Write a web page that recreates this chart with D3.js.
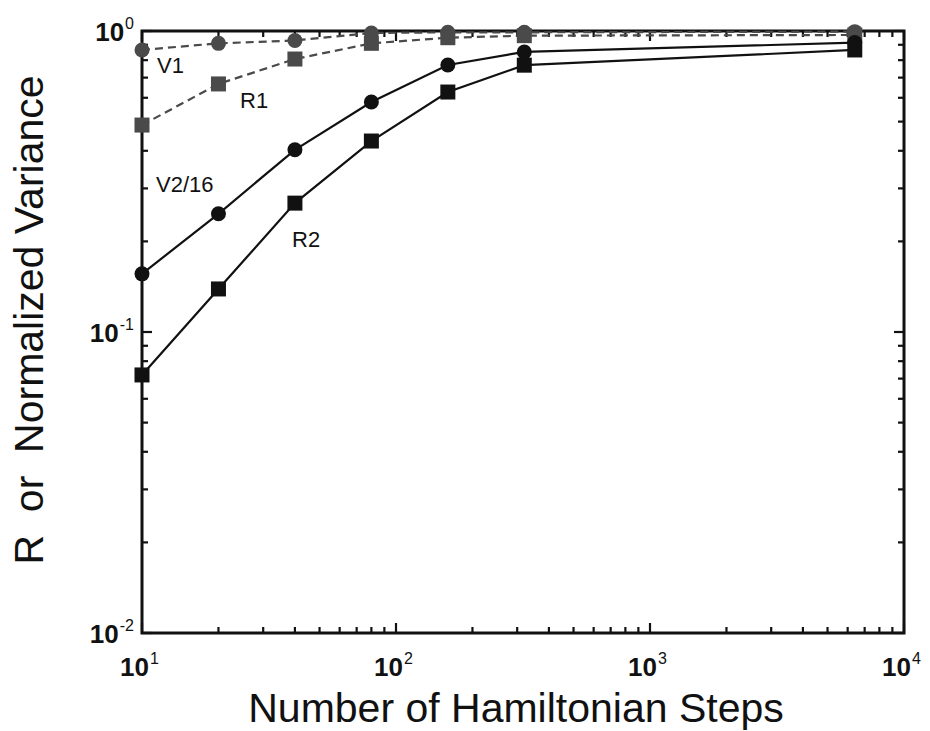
<!DOCTYPE html>
<html>
<head>
<meta charset="utf-8">
<script src="https://cdn.jsdelivr.net/npm/d3@7"></script>
<style>
  body { margin: 0; background: #fff; }
  svg { font-family: "Liberation Sans", Arial, sans-serif; }
</style>
</head>
<body>
<div id="chart"></div>
<script>
// Data
var steps = [10, 20, 40, 80, 160, 320, 6400];
var v1 = [0.865, 0.91, 0.93, 0.985, 0.99, 0.99, 0.995];
var r1 = [0.487, 0.667, 0.807, 0.91, 0.95, 0.965, 0.97];
var v2 = [0.156, 0.247, 0.403, 0.581, 0.771, 0.852, 0.915];
var r2 = [0.072, 0.139, 0.268, 0.431, 0.627, 0.77, 0.865];
var seriesNames = ['V1', 'R1', 'V2/16', 'R2'];
var xTicks = [10, 100, 1000, 10000];
var yTicks = [0.01, 0.1, 1];

var W = 930, H = 731;
var margin = {left: 142, right: 26, top: 31, bottom: 98};

var svg = d3.select('#chart').append('svg')
  .attr('width', W).attr('height', H);

var x = d3.scaleLog().domain([10, 10000]).range([margin.left, W - margin.right]);
var y = d3.scaleLog().domain([0.01, 1]).range([H - margin.bottom, margin.top]);

// minor ticks 2..9 per decade
function minors(lo, hi) {
  var out = [];
  for (var e = lo; e < hi; e++) {
    for (var k = 2; k <= 9; k++) out.push(k * Math.pow(10, e));
  }
  return out;
}
var xMinor = minors(1, 4), yMinor = minors(-2, 0);

var tickG = svg.append('g').attr('stroke', '#111').attr('stroke-width', 2.2);
var x0 = x.range()[0], x1 = x.range()[1], y0 = y.range()[0], y1 = y.range()[1];
[[xTicks, 10], [xMinor, 6]].forEach(function (t) {
  t[0].forEach(function (v) {
    tickG.append('line').attr('x1', x(v)).attr('x2', x(v)).attr('y1', y0).attr('y2', y0 - t[1]);
    tickG.append('line').attr('x1', x(v)).attr('x2', x(v)).attr('y1', y1).attr('y2', y1 + t[1]);
  });
});
[[yTicks, 10], [yMinor, 6]].forEach(function (t) {
  t[0].forEach(function (v) {
    tickG.append('line').attr('y1', y(v)).attr('y2', y(v)).attr('x1', x0).attr('x2', x0 + t[1]);
    tickG.append('line').attr('y1', y(v)).attr('y2', y(v)).attr('x1', x1).attr('x2', x1 - t[1]);
  });
});

// frame
svg.append('rect')
  .attr('x', x0).attr('y', y1).attr('width', x1 - x0).attr('height', y0 - y1)
  .attr('fill', 'none').attr('stroke', '#111').attr('stroke-width', 3);

// tick labels: 10 with superscript exponent
function powLabel(g, v, px, py, anchor) {
  var t = g.append('text').attr('x', px).attr('y', py).attr('text-anchor', anchor)
    .attr('font-size', 26).attr('fill', '#111').attr('font-weight', 'bold');
  t.append('tspan').text('10');
  t.append('tspan').attr('dy', -12).attr('dx', 1).attr('font-size', 16).attr('font-weight', 'normal')
    .text(Math.round(Math.log10(v)));
}
var lab = svg.append('g');
xTicks.forEach(function (v) { powLabel(lab, v, x(v) - 22, 676, 'start'); });
yTicks.forEach(function (v) { powLabel(lab, v, x0 - 8, y(v) + 10, 'end'); });

// axis titles
svg.append('text').attr('x', 516).attr('y', 722).attr('text-anchor', 'middle')
  .attr('font-size', 41).attr('fill', '#111').text('Number of Hamiltonian Steps');
svg.append('text').attr('transform', 'translate(43,320) rotate(-90)')
  .attr('text-anchor', 'middle').attr('font-size', 41).attr('fill', '#111')
  .attr('xml:space', 'preserve').text('R  or  Normalized Variance');

// series
var series = [
  {name: seriesNames[0], vals: v1, color: '#4a4a4a', dash: '8,5', shape: 'circle', lx: 157, ly: 73},
  {name: seriesNames[1], vals: r1, color: '#4a4a4a', dash: '8,5', shape: 'square', lx: 240, ly: 108},
  {name: seriesNames[2], vals: v2, color: '#111', dash: null, shape: 'circle', lx: 156, ly: 192},
  {name: seriesNames[3], vals: r2, color: '#111', dash: null, shape: 'square', lx: 292, ly: 247}
];
var line = d3.line().x(function (d) { return x(d[0]); }).y(function (d) { return y(d[1]); });

series.forEach(function (s) {
  var pts = steps.map(function (st, i) { return [st, s.vals[i]]; });
  svg.append('path').datum(pts).attr('d', line)
    .attr('fill', 'none').attr('stroke', s.color).attr('stroke-width', 2.2)
    .attr('stroke-dasharray', s.dash);
  var g = svg.append('g').attr('fill', s.color);
  if (s.shape === 'circle') {
    g.selectAll('circle').data(pts).enter().append('circle')
      .attr('cx', function (d) { return x(d[0]); }).attr('cy', function (d) { return y(d[1]); })
      .attr('r', 7.5);
  } else {
    g.selectAll('rect').data(pts).enter().append('rect')
      .attr('x', function (d) { return x(d[0]) - 7.5; }).attr('y', function (d) { return y(d[1]) - 7.5; })
      .attr('width', 15).attr('height', 15);
  }
  svg.append('text').attr('x', s.lx).attr('y', s.ly).attr('font-size', 22).attr('fill', '#111').text(s.name);
});
</script>
</body>
</html>
